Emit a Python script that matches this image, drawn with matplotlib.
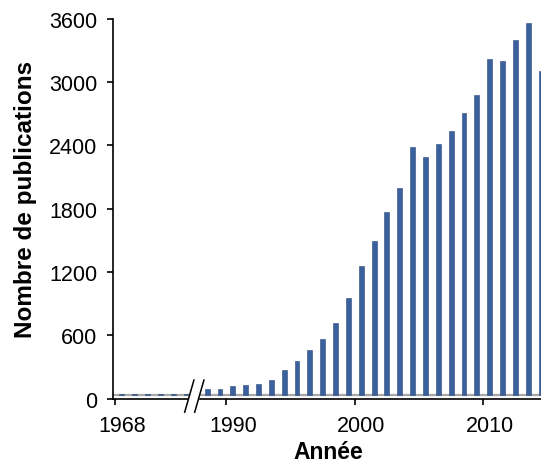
import matplotlib
matplotlib.use("Agg")
import matplotlib.pyplot as plt

plt.rcParams['font.family'] = ['Liberation Sans', 'DejaVu Sans']

# early period, drawn left of the axis break
years_early = [1968, 1969, 1970, 1971, 1972, 1973]
pubs_early = [43, 43, 43, 43, 43, 43]

# main period
years = list(range(1988, 2015))
pubs = [90, 90, 116, 128, 138, 178, 273, 359, 460, 565, 712, 951, 1254, 1494,
        1772, 2000, 2389, 2291, 2412, 2535, 2712, 2882, 3224, 3199, 3404, 3560, 3104]

tick_years = [1968, 1990, 2000, 2010]
yticks = [0, 600, 1200, 1800, 2400, 3000, 3600]

shift = 13.35        # early years are drawn shifted next to the break
floor = 36           # grey floor line of the original chart
brk = 1987.0         # centre of the axis break
bar_color = '#3A619E'

fig = plt.figure(figsize=(5.41, 4.64), dpi=100)
ax = fig.add_axes([0.2094, 0.139, 0.7906, 0.818])

xe = [y + shift for y in years_early]
ax.bar(xe, [v - floor for v in pubs_early], bottom=floor, width=0.38,
       color=bar_color, edgecolor='#2A4A7C', linewidth=0.4, zorder=3)
ax.bar(years, [v - floor for v in pubs], bottom=floor, width=0.38,
       color=bar_color, edgecolor='#2A4A7C', linewidth=0.4, zorder=3)

xmin, xmax = 1980.69, 2014.0
ax.set_xlim(xmin, xmax)
ax.set_ylim(0, 3600)

# grey floor and black bottom axis, both interrupted at the break
for y0, c, lw in [(floor, '#A8A8A8', 1.6), (0, 'black', 1.2)]:
    ax.plot([xmin, brk - 0.5], [y0, y0], color=c, lw=lw, clip_on=False, zorder=2)
    ax.plot([brk + 0.45, xmax], [y0, y0], color=c, lw=lw, clip_on=False, zorder=2)

# break slashes
for dx in (-0.39, 0.39):
    ax.plot([brk + dx - 0.36, brk + dx + 0.36], [-130, 175], color='black',
            lw=1.1, clip_on=False, zorder=4)

ax.spines['top'].set_visible(False)
ax.spines['right'].set_visible(False)
ax.spines['bottom'].set_visible(False)
ax.spines['left'].set_linewidth(1.2)

ax.set_yticks(yticks)
ax.set_yticklabels([str(v) for v in yticks])
ax.tick_params(axis='y', length=4, width=1.2, pad=7.5, labelsize=15.5)

label_pos = [tick_years[0] + shift] + tick_years[1:]
ax.set_xticks(label_pos)
ax.set_xticklabels([str(v) for v in tick_years])
ax.set_xticks([p - 0.5 for p in label_pos], minor=True)
ax.tick_params(axis='x', which='major', length=0, pad=12, labelsize=15.5)
ax.tick_params(axis='x', which='minor', length=4, width=1.2)

fig.text(0.048, 0.5707, 'Nombre de publications', rotation=90, ha='center',
         va='center', fontsize=17.5, fontweight='bold')
fig.text(0.6063, 0.0108, 'Année', ha='center', va='baseline',
         fontsize=16.5, fontweight='bold')

fig.savefig('out.png', dpi=100)
